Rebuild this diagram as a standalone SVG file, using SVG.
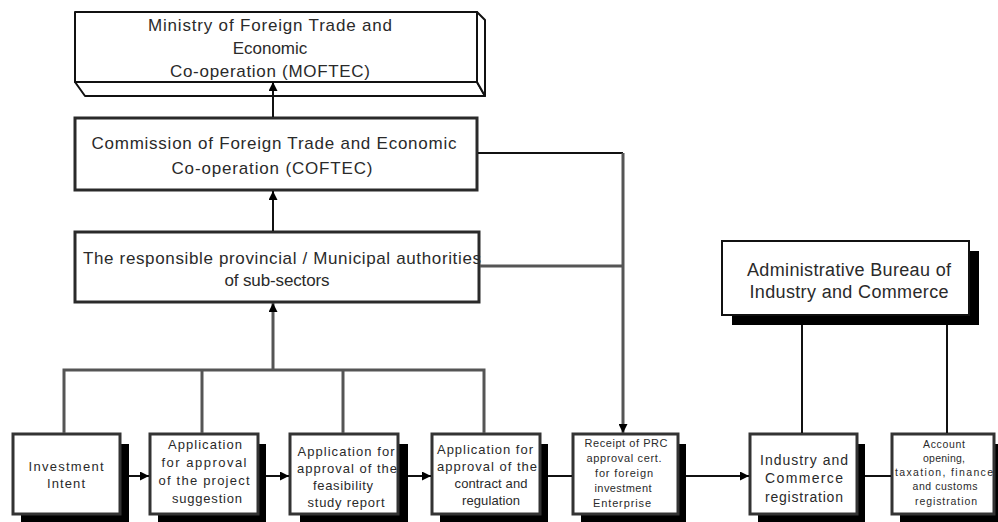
<svg xmlns="http://www.w3.org/2000/svg" width="998" height="522" viewBox="0 0 998 522">
<defs>
<marker id="ah" viewBox="0 0 10 10" refX="10" refY="5" markerWidth="9" markerHeight="9" markerUnits="userSpaceOnUse" orient="auto">
<path d="M0,0 L10,5 L0,10 z" fill="#000"/>
</marker>
<style>
.t{font-family:"Liberation Sans",Arial,sans-serif;fill:#2a2a2a;text-anchor:middle}
.big{font-size:17px}
.mid{font-size:13px}
.sm{font-size:11px}
.xs{font-size:10.5px}
.box{fill:#fff;stroke:#2a2a2a;stroke-width:3}
.sbox{fill:#fff;stroke:#333;stroke-width:3}
.shadow{fill:#000}
.slab{fill:#fff;stroke:#111;stroke-width:2;stroke-linejoin:round}
.c{fill:none;stroke:#555;stroke-width:3}
.cb{fill:none;stroke:#111;stroke-width:2}
</style>
</defs>
<rect width="998" height="522" fill="#fff"/>

<g id="moftec">
<polygon class="slab" points="75,82 477,82 485,96 85,96"/>
<polygon class="slab" points="477,12 485,20 485,96 477,82"/>
<rect class="slab" x="75" y="12" width="402" height="70"/>
<text class="t big" x="270" y="31" textLength="244" lengthAdjust="spacing">Ministry of Foreign Trade and</text>
<text class="t big" x="270" y="54">Economic</text>
<text class="t big" x="270" y="77" textLength="200" lengthAdjust="spacing">Co-operation (MOFTEC)</text>
</g>

<g id="coftec">
<rect class="box" x="75" y="118" width="402" height="72"/>
<text class="t big" x="274" y="149" textLength="365" lengthAdjust="spacing">Commission of Foreign Trade and Economic</text>
<text class="t big" x="272" y="174" textLength="201" lengthAdjust="spacing">Co-operation (COFTEC)</text>
</g>

<g id="provincial">
<rect class="box" x="75" y="232" width="404" height="70"/>
<text class="t big" x="282" y="264" textLength="398" lengthAdjust="spacing">The responsible provincial / Municipal authorities</text>
<text class="t big" x="277" y="286" textLength="105" lengthAdjust="spacing">of sub-sectors</text>
</g>

<g id="admin-bureau">
<rect class="shadow" x="732" y="251" width="247" height="74"/>
<rect x="722" y="241" width="247" height="74" fill="#fff" stroke="#111" stroke-width="2"/>
<text class="t" style="font-size:18px" x="849" y="276" textLength="204" lengthAdjust="spacing">Administrative Bureau of</text>
<text class="t" style="font-size:18px" x="849" y="298" textLength="199" lengthAdjust="spacing">Industry and Commerce</text>
</g>

<g id="investment-intent">
<rect class="shadow" x="21" y="444" width="108" height="80"/>
<rect class="sbox" x="13" y="434" width="107" height="80"/>
<text class="t mid" x="66" y="471" textLength="75" lengthAdjust="spacing">Investment</text>
<text class="t mid" x="66" y="488" textLength="38" lengthAdjust="spacing">Intent</text>
</g>

<g id="project-suggestion">
<rect class="shadow" x="158" y="444" width="108" height="80"/>
<rect class="sbox" x="150" y="434" width="108" height="80"/>
<text class="t mid" x="205" y="449" textLength="74" lengthAdjust="spacing">Application</text>
<text class="t mid" x="204" y="467" textLength="85" lengthAdjust="spacing">for approval</text>
<text class="t mid" x="204" y="485" textLength="91" lengthAdjust="spacing">of the project</text>
<text class="t mid" x="207" y="503" textLength="70" lengthAdjust="spacing">suggestion</text>
</g>

<g id="feasibility">
<rect class="shadow" x="300" y="444" width="108" height="80"/>
<rect class="sbox" x="290" y="434" width="108" height="80"/>
<text class="t mid" x="346" y="456" textLength="97" lengthAdjust="spacing">Application for</text>
<text class="t mid" x="347" y="473" textLength="100" lengthAdjust="spacing">approval of the</text>
<text class="t mid" x="343" y="490" textLength="60" lengthAdjust="spacing">feasibility</text>
<text class="t mid" x="346" y="507" textLength="77" lengthAdjust="spacing">study report</text>
</g>

<g id="contract">
<rect class="shadow" x="440" y="444" width="108" height="80"/>
<rect class="sbox" x="432" y="434" width="108" height="80"/>
<text class="t mid" x="485" y="454" textLength="96" lengthAdjust="spacing">Application for</text>
<text class="t mid" x="487" y="471" textLength="100" lengthAdjust="spacing">approval of the</text>
<text class="t mid" x="491" y="488" textLength="73" lengthAdjust="spacing">contract and</text>
<text class="t mid" x="491" y="505" textLength="58" lengthAdjust="spacing">regulation</text>
</g>

<g id="receipt">
<rect class="shadow" x="581" y="444" width="105" height="80"/>
<rect class="sbox" x="573" y="434" width="105" height="80"/>
<text class="t sm" x="626" y="447" textLength="83" lengthAdjust="spacing">Receipt of PRC</text>
<text class="t sm" x="624" y="462" textLength="75" lengthAdjust="spacing">approval cert.</text>
<text class="t sm" x="624" y="477" textLength="58" lengthAdjust="spacing">for foreign</text>
<text class="t sm" x="623" y="492" textLength="57" lengthAdjust="spacing">investment</text>
<text class="t sm" x="622" y="507" textLength="58" lengthAdjust="spacing">Enterprise</text>
</g>

<g id="industry-registration">
<rect class="shadow" x="758" y="444" width="107" height="80"/>
<rect class="sbox" x="750" y="434" width="107" height="80"/>
<text class="t" style="font-size:14px" x="804" y="465" textLength="88" lengthAdjust="spacing">Industry and</text>
<text class="t" style="font-size:14px" x="804" y="483" textLength="78" lengthAdjust="spacing">Commerce</text>
<text class="t" style="font-size:14px" x="804" y="502" textLength="78" lengthAdjust="spacing">registration</text>
</g>

<g id="account-opening">
<rect class="shadow" x="900" y="444" width="102" height="80"/>
<rect class="sbox" x="892" y="434" width="102" height="80"/>
<text class="t xs" x="944" y="448" textLength="42" lengthAdjust="spacing">Account</text>
<text class="t xs" x="944" y="462" textLength="42" lengthAdjust="spacing">opening,</text>
<text class="t xs" x="944" y="476" textLength="98" lengthAdjust="spacing">taxation, finance</text>
<text class="t xs" x="945" y="490" textLength="65" lengthAdjust="spacing">and customs</text>
<text class="t xs" x="946" y="505" textLength="62" lengthAdjust="spacing">registration</text>
</g>

<g id="connectors">
<line class="cb" x1="273" y1="117" x2="273" y2="82" marker-end="url(#ah)"/>
<line class="cb" x1="273" y1="231" x2="273" y2="191" marker-end="url(#ah)"/>
<line class="c" x1="273" y1="370" x2="273" y2="303" marker-end="url(#ah)"/>
<polyline class="c" points="64,433 64,370 484,370 484,433"/>
<line class="c" x1="202" y1="370" x2="202" y2="433"/>
<line class="c" x1="343" y1="370" x2="343" y2="433"/>
<polyline class="cb" points="478,153 623,153"/>
<line class="c" x1="623" y1="153" x2="623" y2="433" marker-end="url(#ah)"/>
<line class="c" x1="480" y1="266" x2="623" y2="266"/>
<line class="cb" x1="129" y1="476" x2="149" y2="476" marker-end="url(#ah)"/>
<line class="cb" x1="266" y1="476" x2="289" y2="476" marker-end="url(#ah)"/>
<line class="cb" x1="408" y1="476" x2="431" y2="476" marker-end="url(#ah)"/>
<line class="cb" x1="548" y1="476" x2="572" y2="476"/>
<line class="cb" x1="686" y1="476" x2="749" y2="476" marker-end="url(#ah)"/>
<line class="cb" x1="865" y1="476" x2="891" y2="476"/>
<line class="cb" x1="802" y1="325" x2="802" y2="433"/>
<line class="cb" x1="947" y1="325" x2="947" y2="433"/>
</g>
</svg>
